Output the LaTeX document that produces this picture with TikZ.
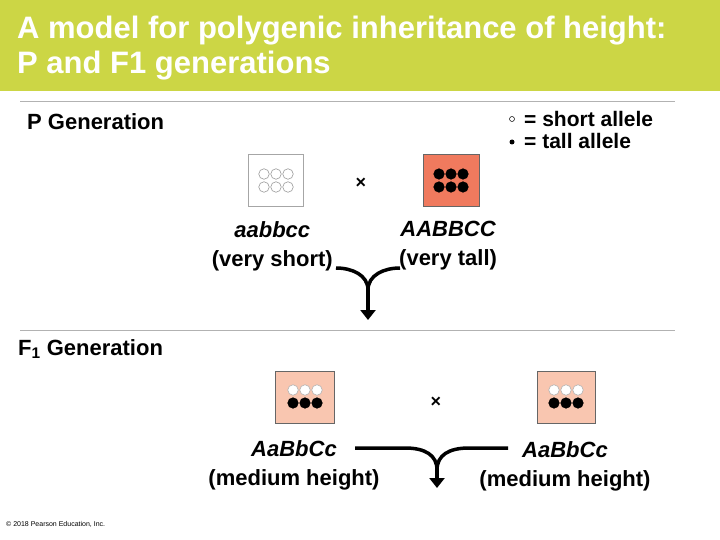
\documentclass[tikz,border=0pt]{standalone}
\usepackage{fontspec}
\setmainfont{Liberation Sans}
\usetikzlibrary{arrows.meta,calc}
\definecolor{hdr}{HTML}{CCD645}
\definecolor{tallred}{HTML}{F07A5E}
\definecolor{medpink}{HTML}{F9C6B0}
\tikzset{
 lbl/.style={font=\fontsize{22}{29}\selectfont\bfseries, align=center, inner sep=0pt},
 leg/.style={font=\fontsize{21}{22}\selectfont\bfseries, inner sep=0pt},
 ttl/.style={font=\fontsize{31}{35}\selectfont\bfseries, text=white, align=left, anchor=north west, inner sep=0pt},
 gbox/.style={draw=gray!70, line width=0.8pt},
 al/.style={circle, minimum size=10.5pt, inner sep=0pt, line width=0.6pt},
 wal/.style={al, draw=gray!80, fill=white},
 bal/.style={al, draw=black, fill=black},
 flow/.style={line width=3.5pt, -{Triangle[width=15pt,length=10pt]}},
 rule/.style={draw=gray!60, line width=1pt}
}
\begin{document}
\begin{tikzpicture}[x=1pt,y=-1pt]
\useasboundingbox (0,0) rectangle (720,540);
\fill[hdr] (0,0) rectangle (720,91);
\node[ttl] (title) at (17,16) {A model for polygenic inheritance of height:\\P and F1 generations};
\draw[rule] (20,102) -- (675,102);
\draw[rule] (20,330) -- (675,330);
\node[lbl, anchor=west] (pg) at (27,122) {P Generation};
\node[lbl, anchor=west] (f1) at (18,349) {F\textsubscript{1} Generation};
\node[leg, anchor=west] (l1) at (524,119) {= short allele};
\node[leg, anchor=west] (l2) at (524,141) {= tall allele};
\node[circle, draw=black, line width=0.5pt, minimum size=5pt, inner sep=0pt] (ws) at (512,119) {};
\node[circle, fill=black, minimum size=5pt, inner sep=0pt] (bs) at (512,142) {};
% P boxes
\node[gbox, fill=white, minimum width=55pt, minimum height=52pt] (pa) at (276,180) {};
\node[gbox, draw=gray!80!black, fill=tallred, minimum width=56pt, minimum height=52pt] (pb) at (451,180) {};
\foreach \i in {-1,0,1}{
 \node[wal] at ($(276,174)+(12*\i,0)$) {};
 \node[wal] at ($(276,187)+(12*\i,0)$) {};
 \node[bal] at ($(451,174)+(12*\i,0)$) {};
 \node[bal] at ($(451,187)+(12*\i,0)$) {};
}
\node[font=\fontsize{18}{20}\selectfont\bfseries] (x1) at (361,183) {×};
\node[lbl, anchor=north east] (ta) at (333,221) {\itshape aabbcc\\(very short)};
\node[lbl, anchor=north west] (tb) at (399,221) {\itshape AABBCC\\(very tall)};
\coordinate (m1) at (368,290);
\coordinate (e1) at (368,320);
\draw[line width=3.5pt] (336,268) .. controls (352,268) and (368,275) .. (m1);
\draw[line width=3.5pt] (400,268) .. controls (384,268) and (368,275) .. (m1);
\draw[flow] (m1) -- (e1);
% F1 boxes
\node[gbox, draw=gray!80!black, fill=medpink, minimum width=59pt, minimum height=52pt] (fa) at (305,397) {};
\node[gbox, draw=gray!80!black, fill=medpink, minimum width=58pt, minimum height=52pt] (fb) at (566,397) {};
\foreach \c in {305,566}{
 \foreach \i in {-1,0,1}{
  \node[wal, draw=gray!60] at ($(\c,390)+(12*\i,0)$) {};
  \node[bal] at ($(\c,403)+(12*\i,0)$) {};
 }
}
\node[font=\fontsize{18}{20}\selectfont\bfseries] (x2) at (436,402) {×};
\node[lbl, anchor=north] (tc) at (294,440) {\itshape AaBbCc\\(medium height)};
\node[lbl, anchor=north] (td) at (565,441) {\itshape AaBbCc\\(medium height)};
\coordinate (m2) at (437,470);
\coordinate (e2) at (437,488);
\draw[line width=3.5pt] (355,448) -- (405,448) .. controls (425,448) and (437,455) .. (m2);
\draw[line width=3.5pt] (508,448) -- (469,448) .. controls (449,448) and (437,455) .. (m2);
\draw[flow] (m2) -- (e2);
\node[font=\fontsize{7}{8}\selectfont, anchor=west, inner sep=0pt] (cp) at (6,524) {© 2018 Pearson Education, Inc.};
\end{tikzpicture}
\end{document}
